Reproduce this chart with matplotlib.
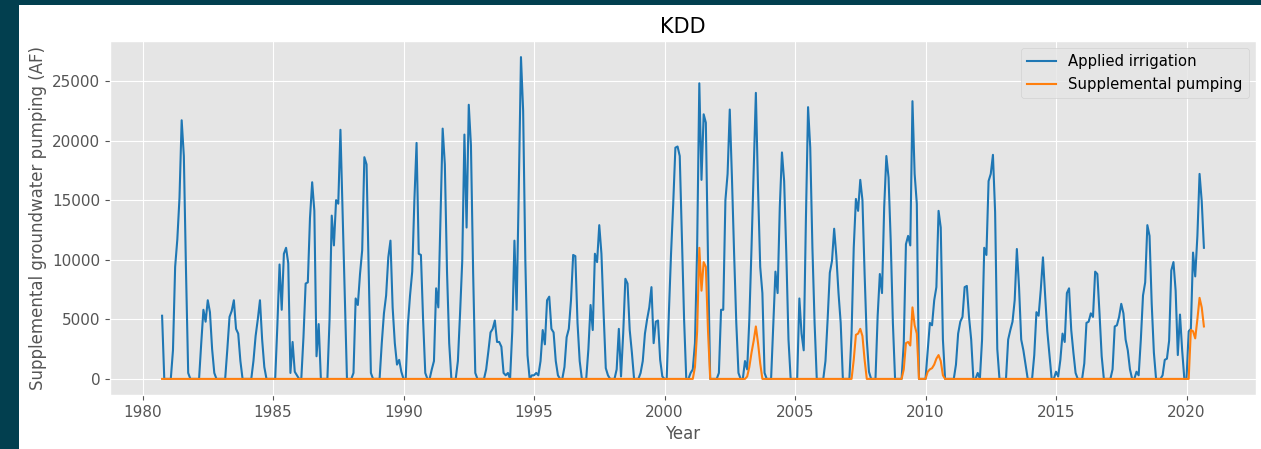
import matplotlib
matplotlib.use("Agg")
import matplotlib.pyplot as plt
from matplotlib.patches import Rectangle
import numpy as np

# monthly values, one row per water year (Oct .. Sep), WY1981 .. WY2020
applied_irrigation = [
    5300, 0, 0, 0, 0, 2400, 9400, 11700, 15200, 21700, 18700, 9000,
    500, 0, 0, 0, 0, 0, 3000, 5800, 4800, 6600, 5600, 2500,
    500, 0, 0, 0, 0, 0, 2500, 5200, 5700, 6600, 4200, 3800,
    1500, 0, 0, 0, 0, 0, 1500, 3600, 5000, 6600, 3300, 1000,
    0, 0, 0, 0, 0, 4500, 9600, 5800, 10500, 11000, 9700, 500,
    3100, 600, 300, 0, 0, 3500, 8000, 8100, 13500, 16500, 14100, 1900,
    4600, 0, 0, 0, 0, 5000, 13700, 11200, 15000, 14700, 20900, 14000,
    7000, 0, 0, 0, 500, 6750, 6200, 8800, 10800, 18600, 18000, 9000,
    500, 0, 0, 0, 0, 3000, 5500, 7000, 10200, 11600, 6000, 3000,
    1200, 1600, 600, 0, 0, 4500, 7000, 9000, 15000, 19800, 10500, 10400,
    5000, 500, 0, 0, 800, 1500, 7600, 6000, 13500, 21000, 18000, 9000,
    3000, 0, 0, 0, 1500, 5500, 9900, 20500, 12700, 23000, 19600, 9000,
    500, 0, 0, 0, 0, 800, 2300, 3900, 4200, 4900, 3100, 3100,
    2700, 500, 300, 500, 0, 4000, 11600, 5800, 16000, 27000, 22500, 10000,
    2000, 0, 300, 300, 500, 300, 1500, 4100, 2900, 6600, 6900, 4200,
    3900, 1500, 300, 0, 0, 1000, 3500, 4200, 6600, 10400, 10300, 4700,
    1500, 0, 0, 0, 2500, 6200, 4100, 10500, 9800, 12900, 10500, 5500,
    900, 300, 0, 0, 0, 800, 4200, 200, 3800, 8400, 8000, 4100,
    2200, 0, 0, 0, 500, 1500, 3800, 5000, 6000, 7700, 3000, 4800,
    4900, 1600, 200, 0, 0, 5500, 10500, 14700, 19400, 19500, 18700, 12000,
    5000, 0, 0, 500, 800, 3000, 11000, 24800, 16700, 22200, 21500, 10000,
    0, 0, 0, 0, 500, 5800, 5800, 15000, 17200, 22600, 16900, 10500,
    4700, 500, 0, 0, 1500, 800, 5000, 11000, 17500, 24000, 16000, 9400,
    7200, 500, 0, 0, 0, 4400, 9000, 7200, 14400, 19000, 16600, 10500,
    3300, 0, 0, 0, 0, 6750, 3800, 2400, 13300, 22800, 19400, 11000,
    4700, 0, 0, 0, 0, 1500, 5000, 8900, 9900, 12600, 10300, 7200,
    4700, 0, 0, 0, 0, 3800, 11000, 15100, 14100, 16700, 15000, 8800,
    3300, 600, 0, 0, 0, 5300, 8800, 7200, 14400, 18700, 16900, 11600,
    4700, 0, 0, 0, 0, 3000, 11300, 12000, 11200, 23300, 17200, 14700,
    0, 0, 0, 0, 2400, 4700, 4500, 6600, 7700, 14100, 12700, 3300,
    0, 0, 0, 0, 0, 1200, 3800, 4800, 5200, 7700, 7800, 5200,
    3300, 0, 0, 500, 0, 3300, 11000, 10400, 16600, 17200, 18800, 14000,
    2500, 0, 0, 0, 0, 3300, 4100, 4800, 6600, 10900, 7700, 3300,
    2400, 1200, 0, 0, 0, 2000, 5600, 5300, 7500, 10200, 7000, 4000,
    2000, 0, 0, 600, 200, 1600, 3800, 3100, 7200, 7600, 4100, 2200,
    500, 0, 0, 0, 1300, 4700, 4800, 5500, 5200, 9000, 8800, 5500,
    1900, 0, 0, 0, 0, 800, 4400, 4500, 5200, 6300, 5500, 3300,
    2400, 800, 0, 0, 600, 300, 3300, 7000, 8100, 12900, 12000, 6300,
    2200, 0, 0, 0, 300, 1600, 1700, 3200, 9100, 9800, 7400, 2000,
    5400, 2400, 0, 0, 4000, 4200, 10600, 8600, 12000, 17200, 14900, 11000,
]

supplemental_pumping = (
    [0] * 12 * 20                                                   # WY1981-2000
    + [0, 0, 0, 0, 0, 1000, 4000, 11000, 7400, 9800, 9400, 4000]    # WY2001
    + [0] * 12                                                      # WY2002
    + [0, 0, 0, 0, 0, 200, 1000, 2200, 3200, 4400, 3000, 1300]      # WY2003
    + [0] * 12 * 3                                                  # WY2004-2006
    + [0, 0, 0, 0, 0, 0, 1600, 3700, 3800, 4200, 3600, 1600]        # WY2007
    + [0] * 12                                                      # WY2008
    + [0, 0, 0, 0, 0, 800, 3000, 3100, 2800, 6000, 4500, 3800]      # WY2009
    + [0, 0, 0, 0, 600, 800, 900, 1200, 1700, 2000, 1500, 300]      # WY2010
    + [0] * 12 * 9                                                  # WY2011-2019
    + [0, 0, 0, 0, 0, 4100, 4000, 3400, 5000, 6800, 6000, 4400]     # WY2020
)

first_month = 1980 + 9 / 12   # October 1980
years = first_month + np.arange(len(applied_irrigation)) / 12

plt.style.use("ggplot")
fig = plt.figure(figsize=(12.61, 4.49), dpi=100, facecolor="#023f4f")
fig.patches.append(Rectangle((19 / 1261, 0), 1, 1 - 5 / 449, transform=fig.transFigure,
                             facecolor="white", edgecolor="none", zorder=-1))

ax = fig.add_axes([110 / 1261, 1 - 395 / 449, 1146 / 1261, 354 / 449])
ax.plot(years, applied_irrigation, color="#1f77b4", lw=1.5, label="Applied irrigation")
ax.plot(years, supplemental_pumping, color="#ff7f0e", lw=1.5, label="Supplemental pumping")

ax.set_title("KDD", fontsize=15, color="black")
ax.set_xlabel("Year", fontsize=12)
ax.set_ylabel("Supplemental groundwater pumping (AF)", fontsize=12)
ax.tick_params(labelsize=11)
ax.legend(loc="upper right", fontsize=10.7)

fig.savefig("out.png", dpi=100, facecolor=fig.get_facecolor())
